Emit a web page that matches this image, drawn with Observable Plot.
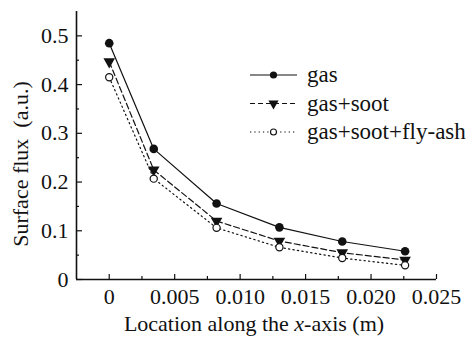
<!DOCTYPE html>
<html><head><meta charset="utf-8">
<script src="https://cdn.jsdelivr.net/npm/d3@7"></script>
<script src="https://cdn.jsdelivr.net/npm/@observablehq/plot@0.6"></script>
<style>
body{margin:0;background:#fff}
#chart{width:472px;height:345px}
#chart svg text{font-family:"Liberation Serif",serif !important}
</style>
</head><body><div id="chart"></div>
<script>
// ---- data ----
const xPos = [0, 0.0034, 0.0082, 0.0130, 0.0178, 0.0226];
const gas = [0.485, 0.268, 0.156, 0.107, 0.078, 0.058];
const gasSoot = [0.447, 0.225, 0.120, 0.079, 0.055, 0.040];
const gasSootAsh = [0.415, 0.207, 0.106, 0.066, 0.044, 0.029];
const seriesNames = ["gas", "gas+soot", "gas+soot+fly-ash"];
const xTicks = [0, 0.005, 0.010, 0.015, 0.020, 0.025];
const xMinor = [0.0025, 0.0075, 0.0125, 0.0175, 0.0225];
const yTicks = [0, 0.1, 0.2, 0.3, 0.4, 0.5];
const yMinor = [0.05, 0.15, 0.25, 0.35, 0.45];
const xDomain = [-0.0025, 0.025];
const yDomain = [0, 0.55];
const yLabel = "Surface flux\u00a0\u00a0(a.u.)";
const xLabelParts = ["Location along the ", "x", "-axis (m)"];

const toRows = vals => xPos.map((x, i) => ({x, y: vals[i]}));
const dGas = toRows(gas), dSoot = toRows(gasSoot), dAsh = toRows(gasSootAsh);

const W = 472, H = 345, mL = 76, mR = 36, mT = 11, mB = 66;
const frameW = W - mL - mR, frameH = H - mT - mB;
const ink = "#111";
const font = "Liberation Serif, serif";

const chart = Plot.plot({
  width: W, height: H,
  marginLeft: mL, marginRight: mR, marginTop: mT, marginBottom: mB,
  style: {fontFamily: font, fontSize: "22px", color: ink, background: "white", overflow: "visible"},
  x: {domain: xDomain},
  y: {domain: yDomain},
  marks: [
    Plot.axisX(xTicks, {tickSize: 0, tickPadding: 9, label: null, fontFamily: font,
      tickFormat: d => d === 0 ? "0" : d.toFixed(3), fontSize: 22}),
    Plot.axisY(yTicks, {tickSize: 0, tickPadding: 8, label: null, fontFamily: font,
      tickFormat: d => d === 0 ? "0" : d.toFixed(1), fontSize: 22}),
    Plot.tickX(xTicks, {x: d => d, insetTop: frameH - 5, stroke: ink, strokeWidth: 1.2}),
    Plot.tickX(xMinor, {x: d => d, insetTop: frameH - 3, stroke: ink, strokeWidth: 1.2}),
    Plot.tickY(yTicks, {y: d => d, insetRight: frameW - 6, stroke: ink, strokeWidth: 1.2}),
    Plot.tickY(yMinor, {y: d => d, insetRight: frameW - 3, stroke: ink, strokeWidth: 1.2}),
    Plot.ruleX([xDomain[0]], {stroke: ink, strokeWidth: 1.6}),
    Plot.ruleY([yDomain[0]], {stroke: ink, strokeWidth: 1.6}),
    Plot.line(dGas, {x: "x", y: "y", stroke: ink, strokeWidth: 1.2}),
    Plot.line(dSoot, {x: "x", y: "y", stroke: ink, strokeWidth: 1.2, strokeDasharray: "6,3"}),
    Plot.line(dAsh, {x: "x", y: "y", stroke: ink, strokeWidth: 1.2, strokeDasharray: "1.3,3.2"}),
    Plot.dot(dGas, {x: "x", y: "y", r: 4.3, fill: ink, stroke: "none"}),
    Plot.dot(dSoot, {x: "x", y: "y", r: 4.3, symbol: "triangle", rotate: 180, fill: ink, stroke: "none"}),
    Plot.dot(dAsh, {x: "x", y: "y", r: 3.6, fill: "white", stroke: ink, strokeWidth: 1.2})
  ]
});
document.getElementById("chart").appendChild(chart);

// ---- axis titles and legend ----
const svg = d3.select(chart);
svg.append("text")
  .attr("transform", `translate(28,${mT + frameH / 2 + 19}) rotate(-90)`)
  .attr("text-anchor", "middle")
  .style("font-family", font).style("font-size", "22px").attr("fill", ink)
  .text(yLabel);

const xl = svg.append("text")
  .attr("x", mL + frameW / 2 - 2).attr("y", 331)
  .attr("text-anchor", "middle")
  .style("font-family", font).style("font-size", "22px").attr("fill", ink);
xl.append("tspan").text(xLabelParts[0]);
xl.append("tspan").style("font-style", "italic").text(xLabelParts[1]);
xl.append("tspan").text(xLabelParts[2]);

const legendStyles = [
  {dash: null, sym: "circle", fill: ink},
  {dash: "5,3", sym: "tri", fill: ink},
  {dash: "1.3,3", sym: "circle", fill: "white"}
];
const lg = svg.append("g");
seriesNames.forEach((name, i) => {
  const y = 75 + i * 28.5;
  const s = legendStyles[i];
  lg.append("line").attr("x1", 250).attr("x2", 297).attr("y1", y).attr("y2", y)
    .attr("stroke", ink).attr("stroke-width", 1.2)
    .attr("stroke-dasharray", s.dash);
  if (s.sym === "tri") {
    lg.append("path").attr("d", d3.symbol(d3.symbolTriangle, 45)())
      .attr("transform", `translate(273.5,${y}) rotate(180)`).attr("fill", ink);
  } else {
    lg.append("circle").attr("cx", 273.5).attr("cy", y).attr("r", s.fill === ink ? 3.6 : 3)
      .attr("fill", s.fill).attr("stroke", ink).attr("stroke-width", s.fill === ink ? 0 : 1.1);
  }
  lg.append("text").attr("x", 307).attr("y", y).attr("dy", "0.32em")
    .attr("text-anchor", "start")
    .style("font-family", font).style("font-size", "23px").attr("fill", ink)
    .text(name);
});
</script>
</body></html>
